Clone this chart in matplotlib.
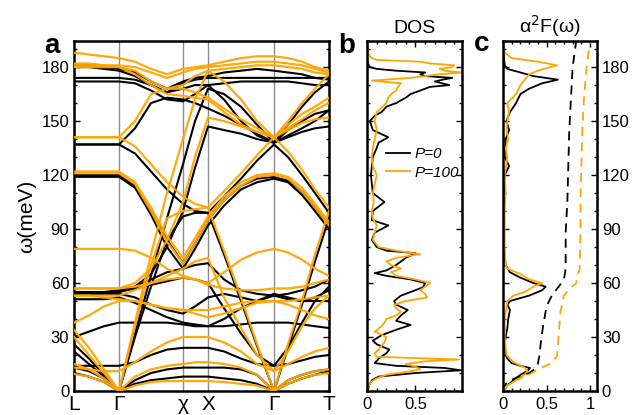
import matplotlib
matplotlib.use("Agg")
import matplotlib.pyplot as plt
from matplotlib.ticker import MultipleLocator

plt.rcParams["font.family"] = ["Liberation Sans", "DejaVu Sans"]

ORANGE = "#FFA500"

# ---------------------------------------------------------------------------
# dados: dispersão de fônons (painel a)
# ---------------------------------------------------------------------------
k_path = [0, 15, 30, 45, 61, 77, 93, 109, 121, 134, 150, 167, 183, 200, 214, 228, 241, 255]
k_sym = [0, 45, 109, 134, 200, 255]
k_labels = ["L", "Γ", "χ", "X", "Γ", "T"]

bands_p0 = [
    [10, 8, 5, 0, 4, 6, 7, 8, 8, 8, 7, 6, 4, 0, 4, 7, 9, 11],
    [13, 11, 7, 0, 6, 10, 12, 13, 13, 13, 13, 12, 9, 0, 6, 9, 11, 12],
    [26, 18, 9, 0, 32, 64, 96, 126, 150, 168, 165, 158, 148, 138, 148, 158, 166, 172],
    [22, 15, 8, 0, 30, 58, 84, 97, 99, 99, 76, 50, 25, 0, 24, 48, 72, 96],
    [137, 137, 137, 137, 132, 122, 112, 104, 100, 99, 108, 118, 128, 137, 130, 120, 110, 99],
    [14, 14, 14, 14, 16, 20, 23, 24, 24, 24, 22, 18, 15, 14, 15, 17, 19, 20],
    [30, 33, 36, 38, 38, 38, 38, 37, 36, 36, 36, 37, 38, 38, 38, 37, 36, 35],
    [51, 51, 51, 52, 49, 45, 41, 38, 37, 36, 40, 46, 50, 53, 51, 50, 50, 50],
    [54, 54, 54, 54, 52, 48, 45, 43, 47, 52, 54, 52, 50, 54, 52, 50, 52, 56],
    [54, 54, 55, 55, 57, 59, 61, 63, 62, 60, 46, 32, 20, 14, 24, 38, 50, 58],
    [55, 55, 55, 56, 58, 62, 66, 68, 70, 71, 62, 56, 54, 53, 54, 56, 58, 62],
    [120, 120, 120, 120, 114, 100, 84, 71, 82, 95, 106, 114, 118, 119, 117, 111, 102, 92],
    [119, 119, 119, 119, 113, 98, 80, 68, 79, 92, 103, 112, 116, 118, 116, 109, 100, 90],
    [137, 137, 137, 137, 146, 160, 163, 162, 160, 157, 153, 148, 143, 138, 142, 146, 150, 156],
    [55, 55, 55, 55, 58, 65, 80, 100, 124, 147, 145, 143, 140, 138, 141, 144, 146, 147],
    [181, 181, 180, 179, 177, 172, 168, 172, 174, 175, 177, 178, 179, 178, 177, 176, 174, 173],
    [174, 174, 174, 174, 173, 170, 166, 171, 173, 174, 174, 174, 174, 174, 174, 174, 174, 174],
    [172, 172, 172, 172, 171, 167, 162, 161, 165, 170, 171, 172, 172, 172, 172, 171, 170, 170],
    [180, 180, 179, 178, 175, 170, 166, 168, 170, 170, 162, 150, 142, 138, 145, 150, 154, 156],
]

bands_p100 = [
    [9.5, 8, 5, 0, 3, 5, 5.5, 5.5, 5.5, 5.5, 5, 4, 3, 0, 4, 7, 9, 10],
    [15, 12, 7, 0, 8, 12, 14, 15, 16, 16, 15, 13, 9, 0, 6, 9, 11, 12],
    [34, 24, 12, 0, 38, 76, 110, 140, 162, 178, 172, 162, 150, 141, 150, 160, 168, 176],
    [30, 20, 10, 0, 36, 70, 96, 100, 101, 102, 78, 52, 26, 0, 26, 50, 76, 100],
    [141, 141, 141, 141, 136, 126, 116, 108, 104, 102, 111, 121, 131, 141, 133, 123, 112, 102],
    [13, 12, 11, 11, 16, 22, 27, 30, 30, 30, 27, 22, 15, 11, 15, 19, 22, 24],
    [38, 42, 47, 50, 50, 48, 46, 45, 43, 41, 43, 46, 49, 50, 48, 45, 42, 40],
    [53, 53, 52, 51, 50, 48, 46, 45, 45, 45, 47, 49, 50, 50, 50, 51, 52, 53],
    [57, 57, 57, 57, 58, 60, 62, 63, 62, 59, 57, 56, 56, 57, 57, 58, 60, 62],
    [53, 53, 53, 53, 56, 60, 64, 68, 72, 74, 52, 35, 20, 11, 22, 36, 46, 53],
    [79, 79, 79, 79, 78, 74, 68, 64, 62, 60, 66, 73, 77, 79, 77, 73, 68, 64],
    [122, 122, 122, 122, 116, 102, 86, 74, 85, 97, 108, 116, 120, 121, 119, 113, 104, 94],
    [121, 121, 121, 121, 115, 100, 83, 71, 82, 95, 106, 114, 119, 120, 118, 111, 102, 92],
    [141, 141, 141, 141, 150, 165, 168, 168, 166, 163, 157, 151, 146, 141, 146, 151, 156, 160],
    [57, 57, 57, 57, 60, 68, 84, 105, 130, 152, 150, 147, 144, 141, 145, 149, 151, 152],
    [188, 187, 186, 185, 183, 179, 176, 179, 180, 181, 183, 185, 186, 186, 185, 183, 180, 178],
    [182, 182, 181, 181, 180, 177, 174, 177, 179, 180, 181, 182, 183, 183, 182, 181, 179, 177],
    [180, 180, 180, 180, 178, 172, 168, 170, 175, 178, 179, 180, 181, 181, 180, 179, 177, 176],
    [181, 181, 181, 180, 176, 170, 165, 164, 163, 162, 155, 148, 144, 141, 148, 154, 158, 163],
]

# ---------------------------------------------------------------------------
# dados: DOS (painel b)
# ---------------------------------------------------------------------------
dos_w_p0 = [0, 3, 6, 8, 10, 11.5, 12.8, 14, 15.5, 18, 21, 23, 26, 28, 31, 34, 36.7, 39,
            42, 45, 48, 50, 53, 55, 57.7, 60, 62, 64, 65.5, 67, 70, 72, 74, 76.6, 78,
            80, 84, 88, 92, 95, 100, 105, 110, 115, 120, 125, 130, 135, 138, 141, 145,
            150, 153, 155, 158, 160, 163, 165, 167, 169, 170, 172, 173, 174, 175, 176,
            177, 178, 179, 180, 182, 186, 194]
dos_p0 = [0.01, 0.02, 0.05, 0.12, 0.5, 0.97, 0.8, 0.3, 0.08, 0.12, 0.2, 0.23, 0.1, 0.06,
          0.15, 0.3, 0.45, 0.3, 0.35, 0.42, 0.3, 0.28, 0.35, 0.45, 0.58, 0.6, 0.45, 0.2,
          0.08, 0.2, 0.3, 0.35, 0.4, 0.5, 0.2, 0.1, 0.05, 0.08, 0.22, 0.05, 0.06, 0.18,
          0.06, 0.05, 0.04, 0.05, 0.06, 0.1, 0.12, 0.22, 0.06, 0.03, 0.08, 0.15, 0.2,
          0.3, 0.4, 0.45, 0.55, 0.65, 0.85, 0.7, 0.78, 0.88, 0.6, 0.55, 0.6, 0.3, 0.1,
          0.03, 0.01, 0.0, 0.0]

dos_w_p100 = [0, 3, 5, 7, 9, 11, 12, 13.5, 15, 16.5, 17.5, 19, 21, 23, 25, 27, 30, 33,
              36, 38, 40, 42, 44, 46, 48, 50, 52, 54, 56, 58, 60, 62, 64, 66, 68, 70, 72,
              74, 76, 78, 80, 84, 88, 92, 96, 100, 105, 110, 115, 120, 125, 130, 135,
              140, 145, 150, 155, 160, 163, 165, 167, 169, 171, 172.5, 174, 175, 176,
              177, 178, 179, 180, 181, 182, 183, 184, 185, 186, 188, 194]
dos_p100 = [0.0, 0.02, 0.04, 0.1, 0.2, 0.45, 0.55, 0.5, 0.4, 0.6, 0.95, 0.1, 0.08, 0.12,
            0.15, 0.18, 0.2, 0.08, 0.15, 0.18, 0.2, 0.3, 0.35, 0.3, 0.28, 0.4, 0.62, 0.6,
            0.55, 0.6, 0.65, 0.5, 0.3, 0.25, 0.35, 0.25, 0.2, 0.3, 0.55, 0.3, 0.12, 0.06,
            0.08, 0.1, 0.06, 0.05, 0.07, 0.06, 0.08, 0.1, 0.06, 0.05, 0.06, 0.08, 0.1,
            0.08, 0.1, 0.2, 0.22, 0.25, 0.3, 0.32, 0.35, 0.05, 0.45, 0.6, 0.75, 0.98, 0.8,
            0.75, 0.88, 0.9, 0.65, 0.55, 0.1, 0.05, 0.03, 0.01, 0.0]

# ---------------------------------------------------------------------------
# dados: alfa^2 F e lambda acumulado (painel c)
# ---------------------------------------------------------------------------
a2f_w_p0 = [0, 3, 6, 9, 11, 12.8, 14, 15.5, 18, 20, 25, 30, 35, 40, 45, 48, 50, 53, 56,
            58, 60, 63, 66, 70, 75, 80, 90, 100, 110, 120, 125, 130, 140, 145, 150, 155,
            160, 165, 168, 171, 173, 175, 177, 179, 181, 190]
a2f_p0 = [0, 0.05, 0.12, 0.2, 0.28, 0.31, 0.2, 0.1, 0.05, 0.03, 0.02, 0.03, 0.05, 0.06,
          0.08, 0.05, 0.08, 0.3, 0.45, 0.49, 0.35, 0.2, 0.08, 0.03, 0.02, 0.01, 0.01, 0.01,
          0.01, 0.02, 0.07, 0.02, 0.03, 0.07, 0.04, 0.08, 0.15, 0.2, 0.3, 0.45, 0.63,
          0.35, 0.2, 0.05, 0.02, 0.0]

a2f_w_p100 = [0, 3, 6, 9, 11, 13, 16, 20, 30, 40, 50, 53, 55, 58, 60, 62, 65, 68, 70, 80,
              90, 100, 110, 120, 130, 135, 140, 145, 150, 155, 160, 165, 170, 173, 176,
              178, 181, 183, 185, 188, 194]
a2f_p100 = [0, 0.05, 0.15, 0.25, 0.28, 0.25, 0.12, 0.04, 0.02, 0.02, 0.05, 0.12, 0.25,
            0.35, 0.45, 0.3, 0.2, 0.05, 0.03, 0.02, 0.02, 0.02, 0.03, 0.02, 0.05, 0.03,
            0.06, 0.04, 0.05, 0.07, 0.05, 0.15, 0.2, 0.25, 0.3, 0.4, 0.62, 0.4, 0.1, 0.02,
            0.0]

lam_w_p0 = [0, 3, 5, 8, 10, 12, 15, 20, 25, 36, 47, 53, 58, 62, 68, 88, 106, 143, 162, 180, 194]
lam_p0 = [0, 0.02, 0.05, 0.18, 0.3, 0.36, 0.4, 0.42, 0.43, 0.46, 0.5, 0.56, 0.64, 0.7,
          0.72, 0.72, 0.74, 0.76, 0.78, 0.8, 0.84]

lam_w_p100 = [0, 3, 6, 9, 12, 15.5, 19.4, 31, 44, 53, 57, 60, 68, 88, 106, 143, 162, 180, 194]
lam_p100 = [0, 0.05, 0.15, 0.3, 0.4, 0.56, 0.62, 0.64, 0.66, 0.7, 0.77, 0.84, 0.88, 0.89,
            0.89, 0.91, 0.93, 0.96, 1.0]

W_MAX = 194.5


def _ticks_dentro(ax):
    ax.tick_params(which="both", direction="in", top=True, right=True, width=1)
    ax.tick_params(which="major", length=4)
    ax.tick_params(which="minor", length=2.5)
    for sp in ax.spines.values():
        sp.set_linewidth(1.8)


fig = plt.figure(figsize=(6.36, 4.15), dpi=100)

# painel a -----------------------------------------------------------------
ax_a = fig.add_axes([74 / 636, 24 / 415, 255 / 636, 350 / 415])
for k in k_sym[1:-1]:
    ax_a.axvline(k, color="0.55", lw=1.0, zorder=1)
for b in bands_p0:
    ax_a.plot(k_path, b, color="black", lw=1.5, zorder=2)
for b in bands_p100:
    ax_a.plot(k_path, b, color=ORANGE, lw=1.6, alpha=0.95, zorder=3)
ax_a.set_xlim(0, 255)
ax_a.set_ylim(0, W_MAX)
ax_a.set_xticks(k_sym)
ax_a.set_xticklabels(k_labels, fontsize=15)
ax_a.yaxis.set_major_locator(MultipleLocator(30))
ax_a.yaxis.set_minor_locator(MultipleLocator(10))
_ticks_dentro(ax_a)
ax_a.tick_params(axis="x", which="both", length=0, pad=3)
ax_a.tick_params(axis="y", labelsize=12)
ax_a.set_ylabel("ω(meV)", fontsize=15, labelpad=4)
fig.text(52 / 636, 1 - 46 / 415, "a", fontsize=20, fontweight="bold", ha="center", va="center")

# painel b -----------------------------------------------------------------
ax_b = fig.add_axes([367 / 636, 24 / 415, 95 / 636, 350 / 415])
ax_b.plot(dos_p0, dos_w_p0, color="black", lw=1.3, label="P=0")
ax_b.plot(dos_p100, dos_w_p100, color=ORANGE, lw=1.3, label="P=100")
ax_b.set_xlim(0, 0.98)
ax_b.set_ylim(0, W_MAX)
ax_b.set_xticks([0, 0.5])
ax_b.set_xticklabels(["0", "0.5"])
ax_b.xaxis.set_minor_locator(MultipleLocator(0.1))
ax_b.yaxis.set_major_locator(MultipleLocator(30))
ax_b.yaxis.set_minor_locator(MultipleLocator(10))
ax_b.set_yticklabels([])
_ticks_dentro(ax_b)
ax_b.tick_params(axis="x", labelsize=12, pad=4)
ax_b.set_title("DOS", fontsize=14, pad=6)
leg = ax_b.legend(loc="center left", bbox_to_anchor=(0.05, 0.65), frameon=False,
                  handlelength=1.6, handletextpad=0.3, labelspacing=0.3,
                  prop={"size": 11, "style": "italic"})
fig.text(347 / 636, 1 - 46 / 415, "b", fontsize=20, fontweight="bold", ha="center", va="center")

# painel c -----------------------------------------------------------------
ax_c = fig.add_axes([503 / 636, 24 / 415, 94 / 636, 350 / 415])
ax_c.plot(a2f_p0, a2f_w_p0, color="black", lw=1.3)
ax_c.plot(a2f_p100, a2f_w_p100, color=ORANGE, lw=1.3)
ax_c.plot(lam_p0, lam_w_p0, color="black", lw=1.3, ls=(0, (5, 3.5)))
ax_c.plot(lam_p100, lam_w_p100, color=ORANGE, lw=1.3, ls=(0, (5, 3.5)))
ax_c.set_xlim(0, 1.08)
ax_c.set_ylim(0, W_MAX)
ax_c.set_xticks([0, 0.5, 1])
ax_c.set_xticklabels(["0", "0.5", "1"])
ax_c.xaxis.set_minor_locator(MultipleLocator(0.1))
ax_c.yaxis.set_major_locator(MultipleLocator(30))
ax_c.yaxis.set_minor_locator(MultipleLocator(10))
_ticks_dentro(ax_c)
ax_c.yaxis.tick_right()
ax_c.tick_params(axis="y", which="both", left=True, right=True, labelleft=False,
                 labelright=True, labelsize=12)
ax_c.tick_params(axis="x", labelsize=12, pad=4)
ax_c.set_title("α$^2$F(ω)", fontsize=14, pad=6)
fig.text(482 / 636, 1 - 44 / 415, "c", fontsize=20, fontweight="bold", ha="center", va="center")

fig.savefig("out.png", dpi=100)
